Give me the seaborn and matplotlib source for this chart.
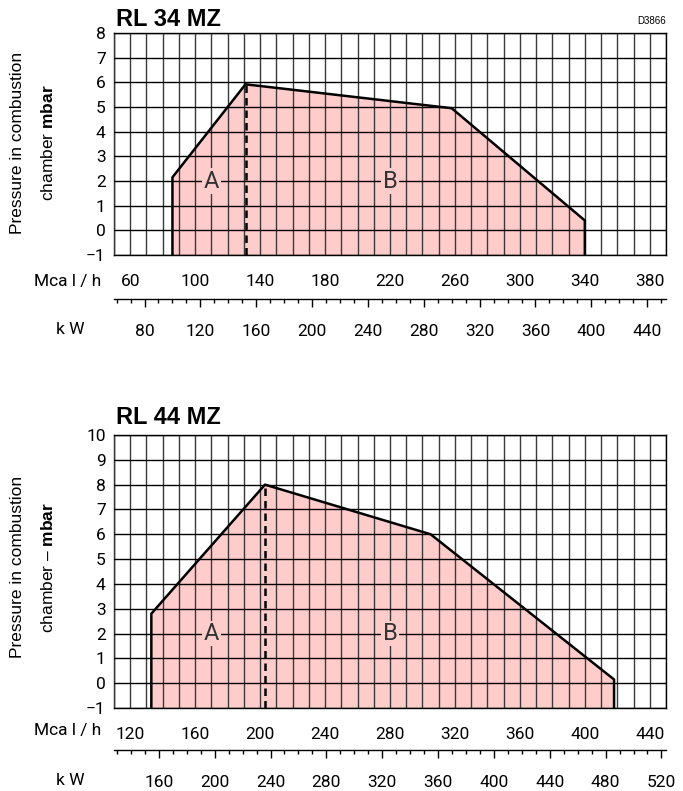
import numpy as np
import pandas as pd
import seaborn as sns
import matplotlib.pyplot as plt
from matplotlib.ticker import MultipleLocator

# operating field, x in Mcal/h, y in mbar
top_mcal = [86, 86, 131, 258, 340, 340]
top_mbar = [-1, 2.15, 5.92, 4.95, 0.4, -1]
top_split = 131
top_peak = 5.92

bot_mcal = [133, 133, 203, 305, 418, 418]
bot_mbar = [-1, 2.8, 8.0, 6.0, 0.15, -1]
bot_split = 203
bot_peak = 8.0

top_xlim = (50, 390)
top_ylim = (-1, 8)
top_mcal_ticks = [60, 100, 140, 180, 220, 260, 300, 340, 380]
top_kw_ticks = [80, 120, 160, 200, 240, 280, 320, 360, 400, 440]
top_letters = [("A", 110, 2), ("B", 220, 2)]

bot_xlim = (110, 450)
bot_ylim = (-1, 10)
bot_mcal_ticks = [120, 160, 200, 240, 280, 320, 360, 400, 440]
bot_kw_ticks = [160, 200, 240, 280, 320, 360, 400, 440, 480, 520]
bot_letters = [("A", 170, 2), ("B", 280, 2)]

sns.set_theme(style="white")
plt.rcParams['font.family'] = ['Roboto', 'DejaVu Sans']
plt.rcParams['text.color'] = 'black'
plt.rcParams['mathtext.fontset'] = 'custom'
plt.rcParams['mathtext.rm'] = 'Liberation Sans'
plt.rcParams['mathtext.bf'] = 'Liberation Sans:bold'

FILL = '#ffcccc'
GRID = '#3a3a3a'
TICK_FS = 12.5


def mcal_to_kw(x):
    return np.asarray(x) / 0.86


def kw_to_mcal(x):
    return np.asarray(x) * 0.86


def draw_panel(ax, mcal, mbar, split, peak, xlim, ylim, mcal_ticks, kw_ticks,
               letters, kw_loc):
    ax.fill(mcal, mbar, color=FILL, zorder=1, lw=0)
    df = pd.DataFrame({'x': mcal, 'y': mbar})
    sns.lineplot(data=df, x='x', y='y', sort=False, estimator=None,
                 color='black', lw=1.8, ax=ax, zorder=3)
    ax.plot([split, split], [ylim[0], peak], color='black', lw=1.8,
            ls=(0, (3, 2)), zorder=3)
    for s, x, y in letters:
        ax.text(x, y, s, ha='center', va='center', fontsize=17,
                color='#333333', zorder=4,
                bbox=dict(facecolor=FILL, edgecolor='none', pad=1.0))

    ax.set_xlim(*xlim)
    ax.set_ylim(*ylim)
    ax.set_xticks(mcal_ticks)
    ax.xaxis.set_minor_locator(MultipleLocator(10))
    ax.set_yticks(range(ylim[0], ylim[1] + 1))
    ax.set_axisbelow(False)
    ax.grid(True, which='both', axis='x', color=GRID, lw=1.0)
    ax.grid(True, which='major', axis='y', color='black', lw=1.0)
    ax.tick_params(axis='x', which='major', direction='out', length=5,
                   width=1, color='black', pad=9, labelsize=TICK_FS,
                   labelcolor='black')
    ax.tick_params(axis='x', which='minor', length=0)
    ax.tick_params(axis='y', length=0, pad=6, labelsize=TICK_FS,
                   labelcolor='black')
    for sp in ax.spines.values():
        sp.set_color('black')
        sp.set_linewidth(1.0)
    ax.set_xlabel('')
    ax.set_ylabel('')

    sec = ax.secondary_xaxis(kw_loc, functions=(mcal_to_kw, kw_to_mcal))
    sec.set_xticks(kw_ticks)
    sec.xaxis.set_minor_locator(MultipleLocator(10))
    sec.tick_params(axis='x', which='major', direction='out', length=6,
                    width=1, color='black', pad=12, labelsize=TICK_FS,
                    labelcolor='black')
    sec.tick_params(axis='x', which='minor', direction='out', length=3,
                    width=1, color='black')
    sec.spines['bottom'].set_color('black')
    sec.spines['bottom'].set_linewidth(1.0)


W, H = 683, 791
fig = plt.figure(figsize=(W / 100, H / 100), dpi=100)


def px(x, y):
    return x / W, 1 - y / H


ax1 = fig.add_axes([114 / W, 1 - 255 / H, 552 / W, 222 / H])
ax2 = fig.add_axes([114 / W, 1 - 708 / H, 552 / W, 273 / H])

draw_panel(ax1, top_mcal, top_mbar, top_split, top_peak, top_xlim, top_ylim,
           top_mcal_ticks, top_kw_ticks, top_letters, -44 / 222)
draw_panel(ax2, bot_mcal, bot_mbar, bot_split, bot_peak, bot_xlim, bot_ylim,
           bot_mcal_ticks, bot_kw_ticks, bot_letters, -42 / 273)

fig.text(*px(116, 20), "RL 34 MZ", ha='left', va='center', fontsize=17,
         fontweight='bold', family='Liberation Sans')
fig.text(*px(116, 418), "RL 44 MZ", ha='left', va='center', fontsize=17,
         fontweight='bold', family='Liberation Sans')
fig.text(*px(666, 21), "D3866", ha='right', va='center', fontsize=7,
         family='Liberation Sans')

for yc, second in [(143, "chamber $\\mathbf{mbar}$"),
                   (567, "chamber – $\\mathbf{mbar}$")]:
    fig.text(*px(18, yc), "Pressure in combustion", rotation=90, ha='center',
             va='center', fontsize=12.5, family='Liberation Sans')
    fig.text(*px(48, yc), second, rotation=90, ha='center', va='center',
             fontsize=12.5, family='Liberation Sans')

for ym, yk in [(281.7, 330), (731, 780.7)]:
    fig.text(*px(67.5, ym), "Mca l / h", ha='center', va='center',
             fontsize=TICK_FS)
    fig.text(*px(70, yk), "k W", ha='center', va='center', fontsize=TICK_FS)

fig.savefig("out.png", dpi=100)
